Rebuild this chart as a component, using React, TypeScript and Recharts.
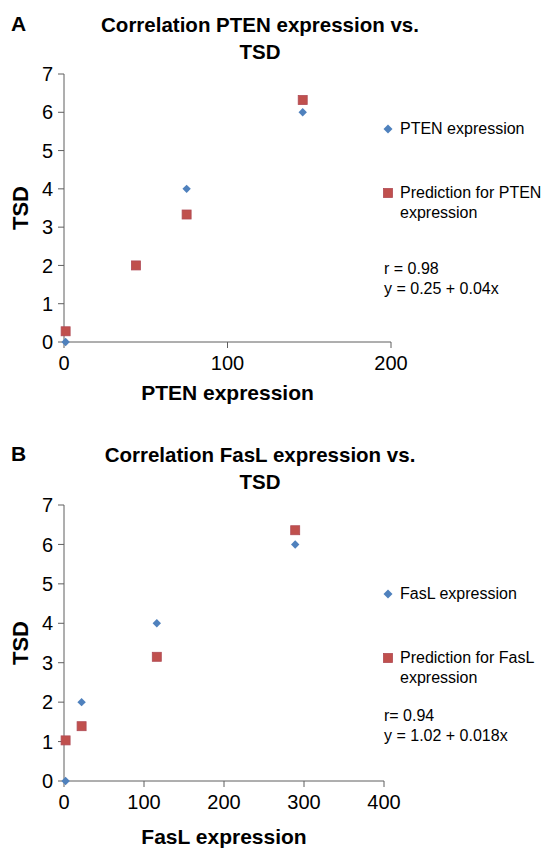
import React from 'react';
import { ScatterChart, Scatter, XAxis, YAxis, Label } from 'recharts';

// Panel A: PTEN
const ptenExpression = [1, 44, 75, 146];
const ptenTsd = [0, 2, 4, 6];
const ptenPredicted = [0.28, 2.0, 3.33, 6.32];
const ptenXTicks = [0, 100, 200];

// Panel B: FasL
const faslExpression = [2, 22, 116, 289];
const faslTsd = [0, 2, 4, 6];
const faslPredicted = [1.03, 1.39, 3.15, 6.36];
const faslXTicks = [0, 100, 200, 300, 400];

const tsdTicks = [0, 1, 2, 3, 4, 5, 6, 7];

const BLUE = '#4F81BD';
const RED = '#C0504D';
const AXIS = '#5e5e5e';
const FONT = '"Liberation Sans", Arial, sans-serif';

const Diamond = (props: any) => {
  const { cx, cy } = props;
  const r = 4.2;
  return <polygon points={`${cx},${cy - r} ${cx + r},${cy} ${cx},${cy + r} ${cx - r},${cy}`} fill={BLUE} />;
};

const Square = (props: any) => {
  const { cx, cy } = props;
  const s = 9;
  return <rect x={cx - s / 2} y={cy - s / 2} width={s} height={s} fill={RED} stroke="#B04A55" strokeWidth={0.8} />;
};

const toPoints = (xs: number[], ys: number[]) => xs.map((x, i) => ({ x, y: ys[i] }));

interface PanelProps {
  top: number;
  height: number;
  letter: string;
  name: string;
  xs: number[];
  tsd: number[];
  predicted: number[];
  xTicks: number[];
  margin: { top: number; right: number; bottom: number; left: number };
  xLabelY: number;
  stats: string[];
  legendTop: number;
}

const Panel: React.FC<PanelProps> = ({ top, height, letter, name, xs, tsd, predicted, xTicks, margin, xLabelY, stats, legendTop }) => {
  const plotMid = margin.top + (height - margin.top - margin.bottom - 30) / 2;
  const xMid = margin.left + 40 + (544 - margin.left - 40 - margin.right) / 2;
  return (
    <div style={{ position: 'absolute', left: 0, top, width: 544, height }}>
      <div style={{ position: 'absolute', left: 11, top: 11, fontSize: 21, fontWeight: 700, lineHeight: '26px' }}>{letter}</div>
      <div style={{ position: 'absolute', left: 60, top: 11, width: 400, textAlign: 'center', fontSize: 20.5, fontWeight: 700, lineHeight: '27px' }}>
        Correlation {name} expression vs.
        <br />
        TSD
      </div>
      <ScatterChart width={544} height={height} margin={margin}>
        <XAxis
          type="number"
          dataKey="x"
          domain={[xTicks[0], xTicks[xTicks.length - 1]]}
          ticks={xTicks}
          height={30}
          tickSize={6}
          tickMargin={8}
          stroke={AXIS}
          tick={{ fill: '#000', fontSize: 20, fontFamily: FONT }}
        >
          <Label
            content={() => (
              <text x={xMid} y={xLabelY} textAnchor="middle" fontSize={21} fontWeight={700} fontFamily={FONT} fill="#000">
                {name} expression
              </text>
            )}
          />
        </XAxis>
        <YAxis
          type="number"
          dataKey="y"
          domain={[0, 7]}
          ticks={tsdTicks}
          width={40}
          tickSize={6}
          tickMargin={5}
          stroke={AXIS}
          tick={{ fill: '#000', fontSize: 20, fontFamily: FONT }}
        >
          <Label
            content={() => (
              <text
                x={20}
                y={plotMid}
                transform={`rotate(-90 20 ${plotMid})`}
                textAnchor="middle"
                dominantBaseline="central"
                fontSize={22}
                fontWeight={700}
                fontFamily={FONT}
                fill="#000"
              >
                TSD
              </text>
            )}
          />
        </YAxis>
        <Scatter name={`${name} expression`} data={toPoints(xs, tsd)} shape={<Diamond />} isAnimationActive={false} />
        <Scatter name={`Prediction for ${name} expression`} data={toPoints(xs, predicted)} shape={<Square />} isAnimationActive={false} />
      </ScatterChart>
      <div style={{ position: 'absolute', left: 382, top: legendTop, width: 162, fontSize: 16, lineHeight: '20px' }}>
        <div style={{ display: 'flex', alignItems: 'center' }}>
          <svg width={18} height={20}>
            <polygon points="6,5.5 10.5,10 6,14.5 1.5,10" fill={BLUE} />
          </svg>
          <span>{name} expression</span>
        </div>
        <div style={{ display: 'flex', alignItems: 'flex-start', marginTop: 44 }}>
          <svg width={18} height={20} style={{ flexShrink: 0 }}>
            <rect x={1.5} y={5.5} width={9} height={9} fill={RED} stroke="#B04A55" strokeWidth={0.8} />
          </svg>
          <span>Prediction for {name} expression</span>
        </div>
        <div style={{ marginTop: stats[0].startsWith('r =') ? 36 : 18, paddingLeft: 2 }}>
          {stats.map((s) => (
            <div key={s}>{s}</div>
          ))}
        </div>
      </div>
    </div>
  );
};

export default function App() {
  return (
    <div style={{ position: 'absolute', left: 0, top: 0, width: 544, height: 849, background: '#fff', fontFamily: FONT, color: '#000' }}>
      <Panel
        top={0}
        height={420}
        letter="A"
        name="PTEN"
        xs={ptenExpression}
        tsd={ptenTsd}
        predicted={ptenPredicted}
        xTicks={ptenXTicks}
        margin={{ top: 74, right: 153, bottom: 48, left: 24 }}
        xLabelY={400}
        stats={['r = 0.98', 'y = 0.25 + 0.04x']}
        legendTop={119}
      />
      <Panel
        top={430}
        height={419}
        letter="B"
        name="FasL"
        xs={faslExpression}
        tsd={faslTsd}
        predicted={faslPredicted}
        xTicks={faslXTicks}
        margin={{ top: 75, right: 160, bottom: 38, left: 24 }}
        xLabelY={414}
        stats={['r= 0.94', 'y = 1.02 + 0.018x']}
        legendTop={154}
      />
    </div>
  );
}
